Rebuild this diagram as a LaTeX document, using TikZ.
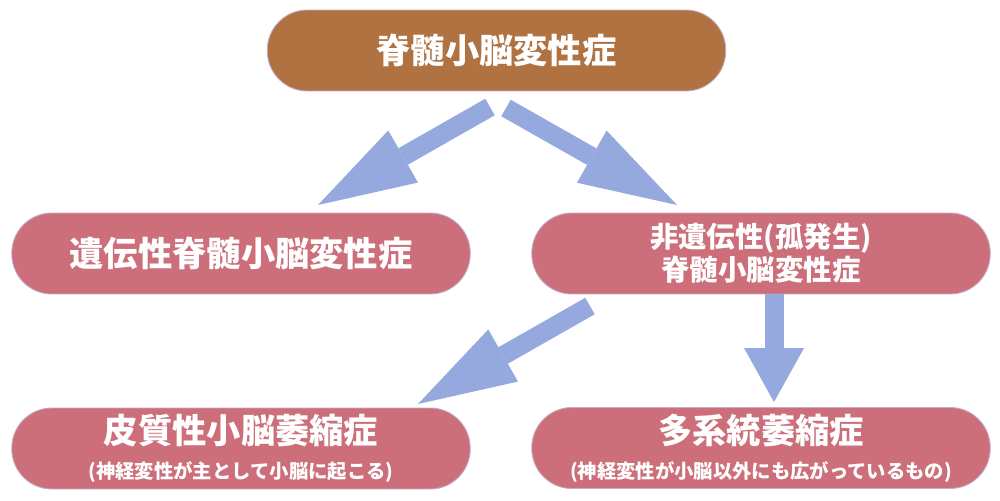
\documentclass[tikz,border=0pt]{standalone}
\usepackage{fontspec}
\setmainfont{Noto Sans CJK JP}
\usetikzlibrary{arrows.meta}
\definecolor{topbrown}{RGB}{176,114,64}
\definecolor{boxpink}{RGB}{204,111,122}
\definecolor{arrowblue}{RGB}{150,169,223}
\definecolor{boxline}{RGB}{196,170,200}
\tikzset{
  box/.style={rounded corners=0.8cm,minimum width=9.17cm,minimum height=1.62cm,
    inner sep=0pt,text=white,align=center,draw=boxline,line width=0.5pt},
  bigfont/.style={font=\fontsize{19.5}{23}\selectfont\bfseries},
  midfont/.style={font=\fontsize{16.2}{18.7}\selectfont\bfseries},
  subfont/.style={font=\fontsize{11}{13}\selectfont\bfseries},
  barrow/.style={line width=0.38cm,color=arrowblue,
    -{Triangle[width=1.2cm,length=1.96cm,line width=0pt]}}
}
\begin{document}
\begin{tikzpicture}[x=0.02cm,y=-0.02cm]
\useasboundingbox[fill=white](0,0)rectangle(1000,500);
% boxes
\node[box,fill=topbrown,bigfont](scd)at(496.5,50.5){脊髄小脳変性症};
\node[box,fill=boxpink,bigfont](hered)at(241,253.5){遺伝性脊髄小脳変性症};
\node[box,fill=boxpink,midfont](spor)at(761,253.5){非遺伝性(孤発生)\\脊髄小脳変性症};
\node[box,fill=boxpink,bigfont](cca)at(241,448.5){皮質性小脳萎縮症\\[-3pt]{\fontsize{11}{13}\selectfont(神経変性が主として小脳に起こる)}};
\node[box,fill=boxpink,bigfont](msa)at(761,448){多系統萎縮症\\[-3pt]{\fontsize{11}{13}\selectfont(神経変性が小脳以外にも広がっているもの)}};
% arrows
\foreach \i/\a/\b/\c/\d in{1/490/107/318/205,2/506/108/677/205,3/590/306/418/404,4/774/294/774/402}
{\coordinate(s\i)at(\a,\b);\coordinate(e\i)at(\c,\d);}
\foreach \i in{1,2,3}\draw[barrow](s\i)--(e\i);
\draw[barrow,-{Triangle[width=1.2cm,length=1.08cm,line width=0pt]}](s4)--(e4);
\end{tikzpicture}
\end{document}
